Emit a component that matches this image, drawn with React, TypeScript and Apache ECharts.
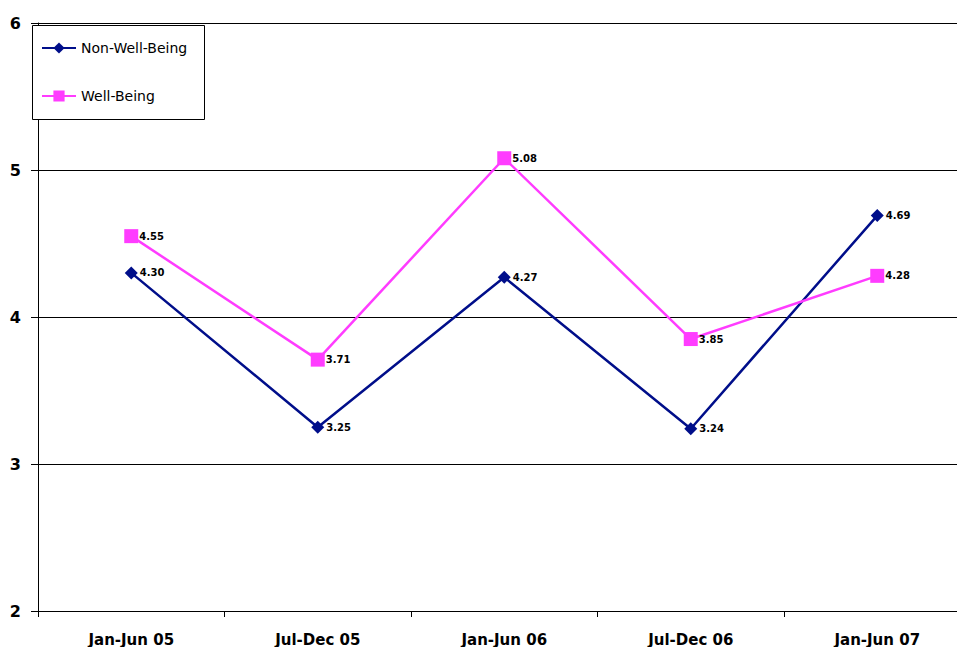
import React, { useEffect, useRef } from "react";
import * as echarts from "echarts";

// Half-year periods on the category axis
const periods = ["Jan-Jun 05", "Jul-Dec 05", "Jan-Jun 06", "Jul-Dec 06", "Jan-Jun 07"];

// Scores per period
const nonWellBeing = [4.3, 3.25, 4.27, 3.24, 4.69];
const wellBeing = [4.55, 3.71, 5.08, 3.85, 4.28];

const FONT = "'DejaVu Sans', Verdana, sans-serif";
const NAVY = "#000E8A";
const MAGENTA = "#FF3CFF";

export default function App() {
  const ref = useRef<HTMLDivElement>(null);

  useEffect(() => {
    if (!ref.current) return;
    const chart = echarts.init(ref.current, null, { renderer: "svg" });

    const label = (distance: number) => ({
      show: true,
      position: "right" as const,
      distance,
      color: "#000",
      fontFamily: FONT,
      fontWeight: "bold" as const,
      fontSize: 10,
      formatter: (p: any) => Number(p.value).toFixed(2),
    });

    chart.setOption({
      animation: false,
      backgroundColor: "#fff",
      // the plot runs past the right edge of the visible frame
      grid: { left: 38, top: 23, right: 0.5, bottom: 36 },
      xAxis: {
        type: "category",
        data: periods,
        boundaryGap: true,
        axisLine: { lineStyle: { color: "#000", width: 1 } },
        axisTick: { show: true, length: 6, lineStyle: { color: "#000" } },
        axisLabel: {
          color: "#000",
          fontFamily: FONT,
          fontWeight: "bold",
          fontSize: 15,
          margin: 21,
        },
        splitLine: { show: false },
      },
      yAxis: {
        type: "value",
        min: 2,
        max: 6,
        interval: 1,
        axisLine: { show: true, lineStyle: { color: "#000", width: 1 } },
        axisTick: { show: true, length: 7, lineStyle: { color: "#000" } },
        axisLabel: {
          color: "#000",
          fontFamily: FONT,
          fontWeight: "bold",
          fontSize: 16,
          margin: 17,
        },
        splitLine: { show: true, lineStyle: { color: "#000", width: 1 } },
      },
      legend: {
        orient: "vertical",
        left: 41,
        top: 41,
        padding: 0,
        itemGap: 34,
        itemWidth: 34,
        itemHeight: 14,
        z: 101,
        textStyle: { color: "#000", fontFamily: FONT, fontSize: 14 },
        data: ["Non-Well-Being", "Well-Being"],
      },
      graphic: [
        {
          type: "rect",
          z: 100,
          shape: { x: 32.5, y: 25.5, width: 172, height: 94 },
          style: { fill: "#fff", stroke: "#000", lineWidth: 1 },
        },
      ],
      series: [
        {
          name: "Non-Well-Being",
          type: "line",
          data: nonWellBeing,
          symbol: "diamond",
          symbolSize: 13,
          lineStyle: { color: NAVY, width: 2.5 },
          itemStyle: { color: NAVY },
          label: label(2),
          z: 3,
        },
        {
          name: "Well-Being",
          type: "line",
          data: wellBeing,
          symbol: "rect",
          symbolSize: 14,
          lineStyle: { color: MAGENTA, width: 2.5 },
          itemStyle: { color: MAGENTA },
          label: label(1),
          z: 3,
        },
      ],
    });

    return () => chart.dispose();
  }, []);

  return (
    <div
      style={{
        position: "absolute",
        left: 0,
        top: 0,
        width: 957,
        height: 647,
        overflow: "hidden",
      }}
    >
      <div ref={ref} style={{ width: 971, height: 647 }} />
    </div>
  );
}
